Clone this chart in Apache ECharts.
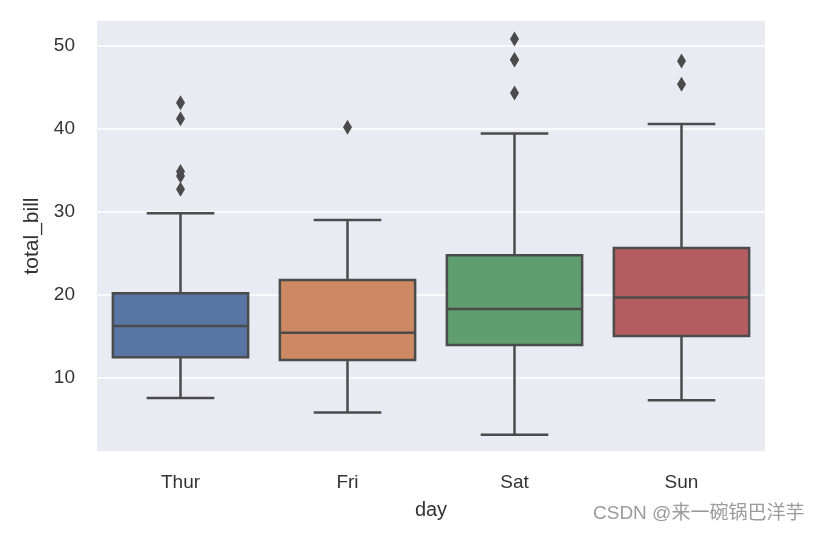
<!DOCTYPE html>
<html>
<head>
<meta charset="utf-8">
<script src="https://cdn.jsdelivr.net/npm/echarts@6/dist/echarts.min.js"></script>
<style>html,body{margin:0;padding:0;background:#fff;}#c{width:820px;height:534px;}</style>
</head>
<body>
<div id="c"></div>
<script>
const days = ['Thur', 'Fri', 'Sat', 'Sun'];
// [lower whisker, Q1, median, Q3, upper whisker]
const thurStats = [7.51, 12.44, 16.2, 20.16, 29.8];
const friStats = [5.75, 12.1, 15.38, 21.75, 28.97];
const satStats = [3.07, 13.9, 18.24, 24.74, 39.42];
const sunStats = [7.25, 14.99, 19.63, 25.6, 40.55];
const thurOutliers = [32.68, 34.3, 34.83, 41.19, 43.11];
const friOutliers = [40.17];
const satOutliers = [44.3, 48.27, 48.33, 50.81];
const sunOutliers = [45.35, 48.17];
const boxColors = ['#5875a4', '#cc8963', '#5f9e6e', '#b55d60'];
const yTicks = [10, 20, 30, 40, 50];

const stats = [thurStats, friStats, satStats, sunStats];
const outliers = [thurOutliers, friOutliers, satOutliers, sunOutliers];
const boxData = stats.map((s, i) => [i].concat(s));
const outlierData = [];
outliers.forEach((arr, i) => arr.forEach(v => outlierData.push([i, v])));

const lineColor = '#4b4b4b';
const lw = 2.5;
const font = 'Liberation Sans, Arial, sans-serif';

const chart = echarts.init(document.getElementById('c'));
chart.setOption({
  animation: false,
  grid: {left: 97, right: 55, top: 20, bottom: 82, show: true, backgroundColor: '#eaeaf2', borderWidth: 0},
  xAxis: {
    type: 'category', data: days, name: 'day', nameLocation: 'middle', nameGap: 48,
    nameTextStyle: {fontSize: 20, color: '#333', fontFamily: font},
    axisLine: {show: false}, axisTick: {show: false}, splitLine: {show: false},
    axisLabel: {fontSize: 19, color: '#333', margin: 21, fontFamily: font}
  },
  yAxis: {
    type: 'value', min: 1, max: 53.1, splitNumber: 5,
    name: 'total_bill', nameLocation: 'middle', nameGap: 54,
    nameTextStyle: {fontSize: 21, color: '#333', fontFamily: font},
    axisLine: {show: false}, axisTick: {show: false},
    splitLine: {show: true, lineStyle: {color: '#ffffff', width: 1.5}},
    axisLabel: {
      fontSize: 19, color: '#333', margin: 22, fontFamily: font,
      showMinLabel: false, showMaxLabel: false,
      formatter: v => (yTicks.indexOf(v) >= 0 ? String(v) : '')
    }
  },
  series: [
    {
      type: 'custom',
      data: boxData,
      encode: {x: 0, y: [1, 2, 3, 4, 5]},
      renderItem: function (params, api) {
        const idx = api.value(0);
        const lo = api.coord([idx, api.value(1)]);
        const q1 = api.coord([idx, api.value(2)]);
        const med = api.coord([idx, api.value(3)]);
        const q3 = api.coord([idx, api.value(4)]);
        const hi = api.coord([idx, api.value(5)]);
        const bw = api.size([1, 0])[0] * 0.81;
        const cx = lo[0];
        const cw = bw / 2;
        const ls = {stroke: lineColor, lineWidth: lw, fill: null};
        return {
          type: 'group',
          children: [
            {type: 'line', shape: {x1: cx, y1: q1[1], x2: cx, y2: lo[1]}, style: ls},
            {type: 'line', shape: {x1: cx, y1: q3[1], x2: cx, y2: hi[1]}, style: ls},
            {type: 'line', shape: {x1: cx - cw / 2, y1: lo[1], x2: cx + cw / 2, y2: lo[1]}, style: ls},
            {type: 'line', shape: {x1: cx - cw / 2, y1: hi[1], x2: cx + cw / 2, y2: hi[1]}, style: ls},
            {type: 'rect', shape: {x: cx - bw / 2, y: q3[1], width: bw, height: q1[1] - q3[1]},
              style: {fill: boxColors[params.dataIndex], stroke: lineColor, lineWidth: lw}},
            {type: 'line', shape: {x1: cx - bw / 2, y1: med[1], x2: cx + bw / 2, y2: med[1]}, style: ls}
          ]
        };
      }
    },
    {
      type: 'scatter',
      data: outlierData,
      symbol: 'diamond',
      symbolSize: [9, 15],
      itemStyle: {color: lineColor, opacity: 1}
    }
  ],
  graphic: [{
    type: 'text', left: 593, top: 504,
    style: {text: 'CSDN @来一碗锅巴洋芋', fontSize: 19, fill: '#9a9a9a', fontFamily: 'Liberation Sans, Noto Sans CJK SC'}
  }]
});
</script>
</body>
</html>
